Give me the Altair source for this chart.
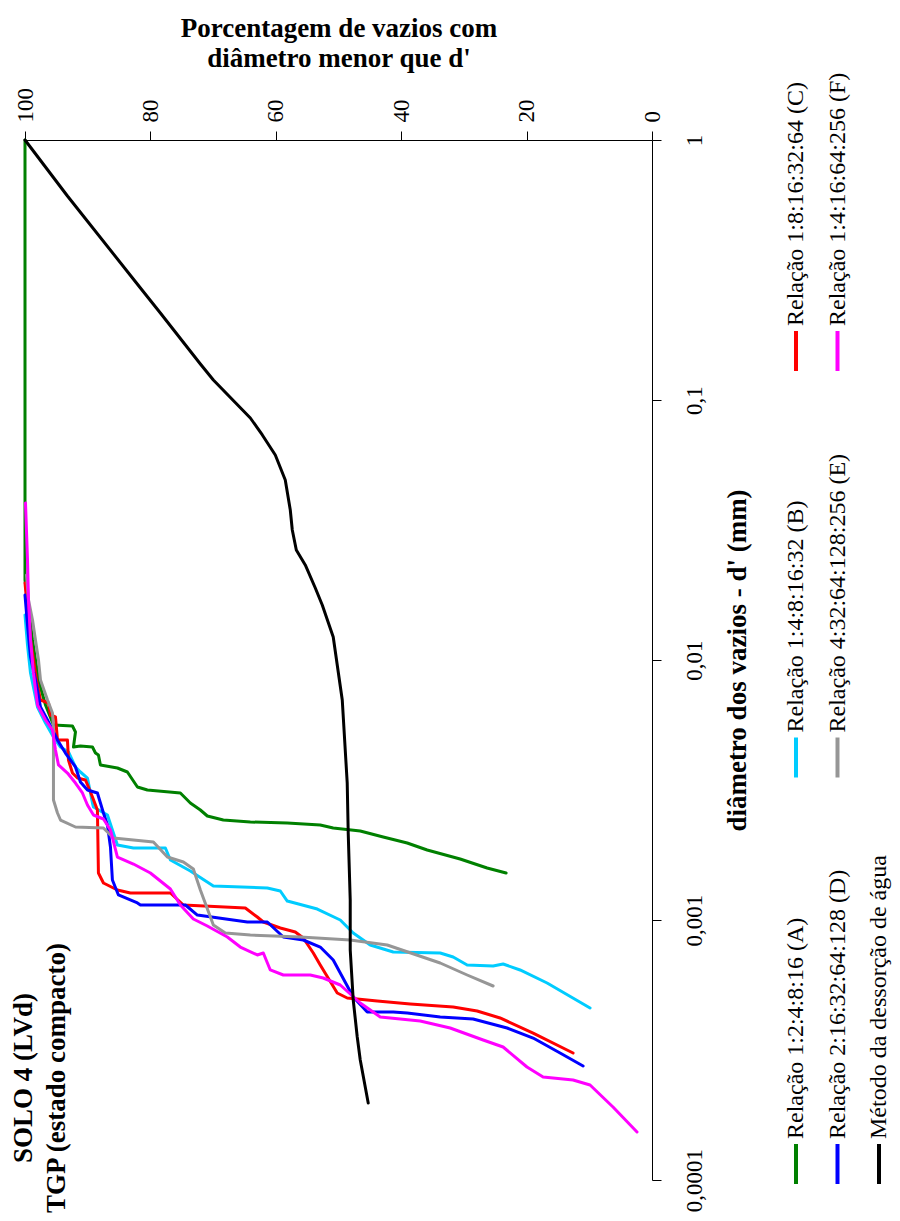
import altair as alt
import pandas as pd

FONT = "Liberation Serif"

series_labels = [
    "Relação 1:2:4:8:16 (A)",
    "Relação 1:4:8:16:32 (B)",
    "Relação 1:8:16:32:64 (C)",
    "Relação 2:16:32:64:128 (D)",
    "Relação 4:32:64:128:256 (E)",
    "Relação 1:4:16:64:256 (F)",
    "Método da dessorção de água",
]
series_colors = ["#008000", "#00CCFF", "#FF0000", "#0000FF", "#969696", "#FF00FF", "#000000"]

# Relação 1:2:4:8:16 (A)
a_pct = [100, 100, 99.60, 98.80, 97.85, 96.73, 95.46, 92.43, 91.95, 92.27, 91.16, 89.24, 88.76, 88.29,
         87.97, 85.26, 83.67, 82.07, 80.48, 75.22, 73.63, 72.03, 70.92, 68.37, 64.06, 58.17, 52.91,
         50.84, 46.53, 42.87, 39.04, 35.86, 30.60, 26.30, 23.27]
a_d = [1, 0.02031, 0.01701, 0.01194, 0.008378, 0.006713, 0.005623, 0.005574, 0.005285, 0.004627,
       0.004668, 0.004627, 0.004388, 0.004311, 0.003947, 0.003843, 0.003709, 0.003248, 0.003162,
       0.003080, 0.002818, 0.002649, 0.002512, 0.002424, 0.002382, 0.002361, 0.002320, 0.002259,
       0.002200, 0.002085, 0.001978, 0.001859, 0.001717, 0.001585, 0.001516]

# Relação 1:4:8:16:32 (B)
b_pct = [100, 99.60, 99.12, 98.01, 96.73, 95.46, 94.34, 93.07, 91.95, 91.16, 90.04, 89.24, 89.08,
         86.85, 86.06, 85.26, 82.71, 77.61, 76.81, 73.63, 69.96, 61.35, 59.28, 58.17, 53.38, 49.72,
         47.65, 44.94, 41.27, 33.78, 31.71, 29.48, 25.34, 23.75, 21.04, 16.73, 9.88]
b_d = [0.01490, 0.01142, 0.008913, 0.006595, 0.005724, 0.005056, 0.004627, 0.004428, 0.003877,
       0.003709, 0.003516, 0.002818, 0.002720, 0.002534, 0.002220, 0.001943, 0.001892, 0.001892,
       0.001701, 0.001543, 0.001351, 0.001328, 0.001293, 0.001183, 0.001102, 0.001000, 0.0008913,
       0.0008013, 0.0007532, 0.0007465, 0.0007207, 0.0006714, 0.0006655, 0.0006773, 0.0006424,
       0.0005724, 0.0004588]

# Relação 1:8:16:32:64 (C)
c_pct = [100, 99.60, 99.12, 98.65, 98.17, 97.53, 96.25, 95.94, 95.14, 94.82, 93.23, 93.07, 92.43,
         91.63, 90.36, 89.88, 89.24, 88.45, 88.29, 87.49, 85.26, 83.19, 76.81, 74.74, 64.86, 62.95,
         61.99, 59.28, 56.89, 55.62, 54.02, 52.91, 50.20, 48.61, 43.82, 38.56, 31.71, 27.89, 24.23,
         18.96, 12.59]
c_d = [0.01978, 0.01557, 0.01194, 0.01000, 0.008378, 0.007017, 0.006833, 0.006144, 0.006036,
       0.004924, 0.004924, 0.004125, 0.003675, 0.003516, 0.003455, 0.003248, 0.002972, 0.002649,
       0.001516, 0.001388, 0.001304, 0.001270, 0.001270, 0.001142, 0.001112, 0.001027, 0.0009825,
       0.0009317, 0.0008993, 0.0008526, 0.0007465, 0.0006714, 0.0005240, 0.0005012, 0.0004880,
       0.0004753, 0.0004629, 0.0004467, 0.0004199, 0.0003675, 0.0003080]

# Relação 2:16:32:64:128 (D)
d_pct = [100, 99.60, 99.12, 98.33, 97.53, 96.41, 94.82, 93.55, 91.95, 91.16, 90.04, 88.45, 87.97,
         87.49, 86.85, 86.37, 86.06, 85.10, 82.07, 81.59, 74.42, 72.51, 64.54, 61.35, 58.80, 55.62,
         52.91, 50.84, 47.65, 45.42, 41.27, 39.04, 33.78, 28.53, 23.11, 18.96, 14.66, 10.99]
d_d = [0.01778, 0.01363, 0.01027, 0.008378, 0.006595, 0.005878, 0.004924, 0.004388, 0.003877,
       0.003394, 0.003162, 0.003080, 0.002818, 0.002579, 0.002320, 0.001909, 0.001425, 0.001248,
       0.001163, 0.001142, 0.001142, 0.001045, 0.0009825, 0.0009825, 0.0008603, 0.0008376,
       0.0007872, 0.0007017, 0.0005056, 0.0004428, 0.0004428, 0.0004389, 0.0004236, 0.0004162,
       0.0003843, 0.0003516, 0.0003080, 0.0002744]

# Relação 4:32:64:128:256 (E)
e_pct = [99.76, 99.44, 98.80, 98.33, 97.85, 97.53, 96.41, 95.62, 95.46, 95.46, 95.46, 94.82, 94.34,
         91.95, 87.49, 85.90, 79.52, 77.29, 74.74, 73.15, 72.03, 69.96, 68.05, 64.06, 56.10, 48.13,
         42.23, 33.78, 29.48, 25.34]
e_d = [0.02123, 0.01701, 0.01425, 0.01194, 0.01000, 0.008378, 0.007017, 0.006254, 0.005525,
       0.003675, 0.002894, 0.002579, 0.002424, 0.002279, 0.002259, 0.002067, 0.001995, 0.001747,
       0.001671, 0.001571, 0.001304, 0.0009567, 0.0008913, 0.0008757, 0.0008603, 0.0008376,
       0.0008013, 0.0006833, 0.0006144, 0.0005574]

# Relação 1:4:16:64:256 (F)
f_pct = [99.92, 99.60, 99.44, 99.12, 98.65, 98.01, 96.73, 95.62, 95.14, 94.66, 93.23, 91.95, 90.84,
         90.04, 89.08, 87.49, 86.37, 85.26, 82.71, 80.00, 76.81, 75.22, 73.15, 70.92, 67.73, 65.66,
         62.95, 61.99, 60.88, 58.80, 54.50, 52.43, 49.72, 46.53, 43.34, 36.97, 32.19, 26.93, 23.75,
         19.94, 17.37, 12.59, 9.88, 6.22, 2.39]
f_d = [0.04017, 0.02424, 0.01701, 0.01194, 0.008913, 0.006713, 0.005878, 0.005380, 0.004507,
       0.003947, 0.003675, 0.003364, 0.003080, 0.002769, 0.002534, 0.002446, 0.002220, 0.001747,
       0.001642, 0.001516, 0.001316, 0.001142, 0.001009, 0.0009483, 0.0008603, 0.0007872,
       0.0007336, 0.0007465, 0.0006424, 0.0006144, 0.0006144, 0.0005983, 0.0005623, 0.0004795,
       0.0004236, 0.0004089, 0.0003843, 0.0003455, 0.0003247, 0.0002720, 0.0002490, 0.0002424,
       0.0002320, 0.0001909, 0.0001530]

# Método da dessorção de água
m_pct = [100, 93.23, 81.59, 78.41, 72.03, 69.96, 64.06, 62.15, 60.08, 58.49, 57.69, 57.37, 56.73,
         55.30, 53.70, 52.59, 50.84, 49.40, 48.61, 48.45, 48.13, 48.13, 47.65, 47.01, 46.53, 45.26]
m_d = [1, 0.6090, 0.2697, 0.2161, 0.1375, 0.1194, 0.08526, 0.07336, 0.06144, 0.04924, 0.03775,
       0.03162, 0.02649, 0.02320, 0.01892, 0.01627, 0.01226, 0.007017, 0.003364, 0.002161,
       0.001194, 0.0007666, 0.0004924, 0.0003548, 0.0002894, 0.0001978]

pct_ticks = [0, 20, 40, 60, 80, 100]
d_ticks = [0.0001, 0.001, 0.01, 0.1, 1]

x_enc = alt.X(
    "pct:Q",
    scale=alt.Scale(domain=[0, 100], reverse=True, nice=False, zero=False),
    axis=alt.Axis(
        orient="top", values=pct_ticks, grid=False,
        title=["Porcentagem de vazios com", "diâmetro menor que d'"],
        titleFont=FONT, titleFontSize=27, titleFontWeight="bold", titleColor="black",
        titleY=-104, titleBaseline="alphabetic", titleLineHeight=30, titleAlign="center",
        labelAngle=270, labelAlign="left", labelBaseline="middle", labelPadding=9,
        labelFont=FONT, labelFontSize=23, labelColor="black", labelFlush=False, labelOverlap=False,
        tickSize=9, tickColor="black", domainColor="black",
    ),
)
y_enc = alt.Y(
    "d:Q",
    scale=alt.Scale(type="log", domain=[0.0001, 1], nice=False),
    axis=alt.Axis(
        orient="right", values=d_ticks, grid=False,
        labelExpr="replace(format(datum.value, '~g'), '.', ',')",
        labelAngle=270, labelAlign="center", labelBaseline="top", labelPadding=22,
        labelFont=FONT, labelFontSize=23, labelColor="black", labelFlush=False, labelOverlap=False,
        tickSize=9, tickColor="black", domainColor="black",
        title="diâmetro dos vazios - d' (mm)", titleFont=FONT, titleFontSize=27,
        titleFontWeight="bold", titleColor="black", titleAngle=270, titleX=93, titleY=520,
        titleAlign="center", titleBaseline="alphabetic",
    ),
)

series = [
    (a_pct, a_d), (b_pct, b_d), (c_pct, c_d), (d_pct, d_d), (e_pct, e_d), (f_pct, f_d), (m_pct, m_d)
]

layers = []
for k, (p, d) in enumerate(series):
    df = pd.DataFrame({"pct": p, "d": d, "i": list(range(len(p)))})
    layers.append(
        alt.Chart(df).mark_line(color=series_colors[k], strokeWidth=3, strokeJoin="round",
                                strokeCap="round")
        .encode(x=x_enc, y=y_enc, order="i:Q")
    )

# manual rotated legend (3 rows x 3 columns)
for k, (lab, col) in enumerate(zip(series_labels, series_colors)):
    row, column = k // 3, k % 3
    lx = 771 + row * 41.5
    bottom = 1044 - column * 406.5
    top = bottom - 40
    one = pd.DataFrame({"t": [lab]})
    layers.append(
        alt.Chart(one).mark_rule(color=col, strokeWidth=4)
        .encode(x=alt.value(lx), y=alt.value(top), y2=alt.value(bottom))
    )
    layers.append(
        alt.Chart(one).mark_text(angle=270, align="left", baseline="middle", font=FONT,
                                 fontSize=24, color="black")
        .encode(text="t:N", x=alt.value(lx), y=alt.value(top - 5))
    )

titles = [("SOLO 4 (LVd)", 7, 1023), ("TGP (estado compacto)", 40, 1073)]
for txt, tx, ty in titles:
    layers.append(
        alt.Chart(pd.DataFrame({"t": [txt]})).mark_text(
            angle=270, align="left", baseline="alphabetic", font=FONT, fontSize=27,
            fontWeight="bold", color="black")
        .encode(text="t:N", x=alt.value(tx), y=alt.value(ty))
    )

chart = alt.layer(*layers).properties(
    width=627, height=1040,
    autosize=alt.AutoSizeParams(type="none"),
    padding={"left": 17, "top": 132, "right": 240, "bottom": 33},
    background="white",
).configure_view(stroke=None)

chart.save("out.html", embed_options={"renderer": "svg", "actions": False})
